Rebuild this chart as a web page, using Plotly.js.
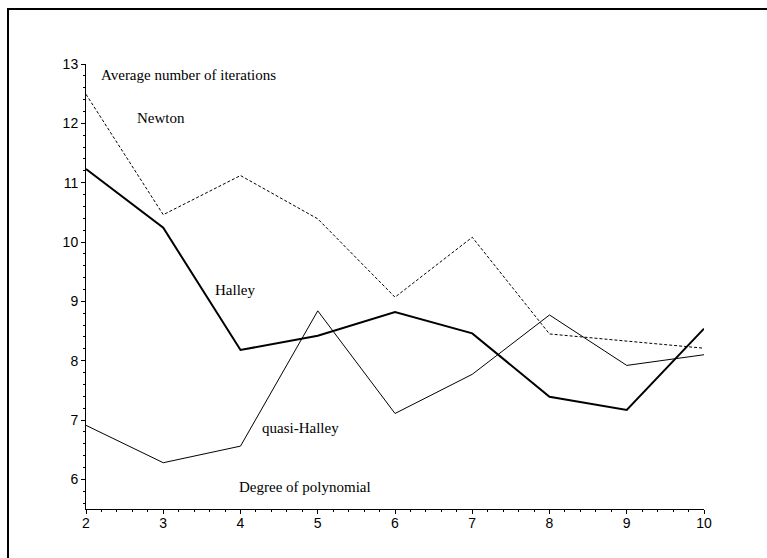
<!DOCTYPE html>
<html>
<head>
<meta charset="utf-8">
<script src="https://cdn.plot.ly/plotly-3.0.1.min.js"></script>
<style>
html,body{margin:0;padding:0;background:#fff;overflow:hidden;width:767px;height:558px}
#chart{width:767px;height:558px;position:absolute;left:0;top:0}
#frame{position:absolute;left:7px;top:8px;width:900px;height:700px;border-left:2px solid #000;border-top:2px solid #000;pointer-events:none}
</style>
</head>
<body>
<div id="chart"></div>
<div id="frame"></div>
<script>
const degrees = [2, 3, 4, 5, 6, 7, 8, 9, 10];
const newton = [12.49, 10.46, 11.12, 10.39, 9.07, 10.08, 8.45, 8.33, 8.21];
const halley = [11.23, 10.24, 8.18, 8.42, 8.82, 8.46, 7.39, 7.17, 8.54];
const quasiHalley = [6.91, 6.28, 6.56, 8.84, 7.11, 7.77, 8.77, 7.92, 8.10];
const xTicks = [2, 3, 4, 5, 6, 7, 8, 9, 10];
const yTicks = [6, 7, 8, 9, 10, 11, 12, 13];

const labels = [
  {text: 'Average number of iterations', x: 2.17, y: 12.81},
  {text: 'Newton', x: 2.63, y: 12.09},
  {text: 'Halley', x: 3.64, y: 9.19},
  {text: 'quasi-Halley', x: 4.25, y: 6.86},
  {text: 'Degree of polynomial', x: 3.95, y: 5.87}
];

const traces = [
  {x: degrees, y: newton, mode: 'lines', line: {color: '#000', width: 1, dash: '3px,2px'}, name: 'Newton'},
  {x: degrees, y: halley, mode: 'lines', line: {color: '#000', width: 2}, name: 'Halley'},
  {x: degrees, y: quasiHalley, mode: 'lines', line: {color: '#000', width: 1}, name: 'quasi-Halley'}
];

const axisCommon = {
  showgrid: false, zeroline: false, showline: true, linecolor: '#000', linewidth: 1,
  ticks: 'outside', ticklen: 4, tickcolor: '#000', tickwidth: 1,
  tickfont: {family: 'Liberation Sans, Arial, sans-serif', size: 14, color: '#000'}
};

const layout = {
  width: 767, height: 558,
  margin: {l: 86, r: 63, t: 64, b: 49},
  paper_bgcolor: 'rgba(0,0,0,0)', plot_bgcolor: 'rgba(0,0,0,0)',
  showlegend: false,
  xaxis: Object.assign({}, axisCommon, {range: [2, 10], tickvals: xTicks, ticktext: xTicks.map(String), ticklabelstandoff: -3,
    minor: {ticks: 'outside', ticklen: 2, tickcolor: '#000', dtick: 0.2, showgrid: false}}),
  yaxis: Object.assign({}, axisCommon, {range: [5.5, 13], tickvals: yTicks, ticktext: yTicks.map(String),
    minor: {ticks: 'outside', ticklen: 2, tickcolor: '#000', dtick: 0.2, showgrid: false}}),
  annotations: labels.map(l => ({
    text: l.text, x: l.x, y: l.y, xref: 'x', yref: 'y', xanchor: 'left', yanchor: 'middle',
    showarrow: false, font: {family: 'Liberation Serif, Times New Roman, serif', size: 15, color: '#000'}
  }))
};

Plotly.newPlot('chart', traces, layout, {displayModeBar: false, staticPlot: true});
</script>
</body>
</html>
